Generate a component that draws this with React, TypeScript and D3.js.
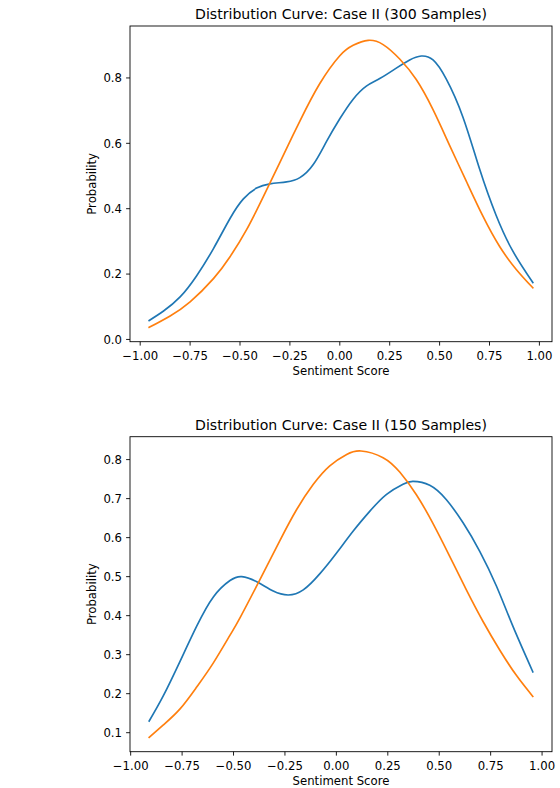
import React from "react";
import * as d3 from "d3";

// ---- Data: Case II (300 samples) ----
const xBlue300 = [-0.955, -0.883, -0.8, -0.717, -0.633, -0.55, -0.483, -0.417, -0.35, -0.267, -0.2, -0.133, -0.067, 0, 0.067, 0.133, 0.2, 0.283, 0.35, 0.408, 0.467, 0.533, 0.617, 0.7, 0.783, 0.867, 0.967];
const yBlue300 = [0.058, 0.087, 0.13, 0.195, 0.278, 0.37, 0.43, 0.463, 0.476, 0.482, 0.495, 0.535, 0.605, 0.675, 0.735, 0.775, 0.798, 0.83, 0.855, 0.867, 0.855, 0.797, 0.68, 0.522, 0.38, 0.27, 0.174];
const xOrange300 = [-0.955, -0.85, -0.75, -0.633, -0.55, -0.467, -0.383, -0.3, -0.2, -0.1, 0, 0.067, 0.142, 0.217, 0.3, 0.383, 0.467, 0.55, 0.633, 0.717, 0.8, 0.883, 0.967];
const yOrange300 = [0.037, 0.072, 0.115, 0.186, 0.253, 0.336, 0.437, 0.542, 0.668, 0.783, 0.868, 0.9, 0.915, 0.902, 0.858, 0.795, 0.703, 0.594, 0.485, 0.377, 0.285, 0.215, 0.158];

// ---- Data: Case II (150 samples) ----
const xBlue150 = [-0.91, -0.841, -0.76, -0.679, -0.598, -0.517, -0.46, -0.387, -0.307, -0.234, -0.161, -0.081, 0, 0.082, 0.163, 0.244, 0.324, 0.373, 0.454, 0.535, 0.616, 0.697, 0.778, 0.858, 0.955];
const yBlue150 = [0.13, 0.195, 0.283, 0.373, 0.448, 0.49, 0.5, 0.487, 0.463, 0.453, 0.466, 0.507, 0.56, 0.617, 0.668, 0.711, 0.737, 0.744, 0.734, 0.697, 0.638, 0.565, 0.476, 0.373, 0.256];
const xOrange150 = [-0.91, -0.841, -0.76, -0.679, -0.598, -0.517, -0.468, -0.371, -0.274, -0.193, -0.113, -0.032, 0.05, 0.12, 0.227, 0.308, 0.389, 0.47, 0.551, 0.632, 0.713, 0.794, 0.875, 0.955];
const yOrange150 = [0.088, 0.12, 0.161, 0.217, 0.279, 0.35, 0.395, 0.493, 0.593, 0.672, 0.736, 0.784, 0.813, 0.822, 0.805, 0.768, 0.71, 0.636, 0.552, 0.466, 0.385, 0.312, 0.247, 0.193];

const xTicks = [-1.0, -0.75, -0.5, -0.25, 0, 0.25, 0.5, 0.75, 1.0];
const yTicks300 = [0.0, 0.2, 0.4, 0.6, 0.8];
const yTicks150 = [0.1, 0.2, 0.3, 0.4, 0.5, 0.6, 0.7, 0.8];

const title300 = "Distribution Curve: Case II (300 Samples)";
const title150 = "Distribution Curve: Case II (150 Samples)";
const xLabel = "Sentiment Score";
const yLabel = "Probability";

const BLUE = "#1f77b4";
const ORANGE = "#ff7f0e";
const FONT = "DejaVu Sans, sans-serif";

const fmtMinus = (s: string) => s.replace("-", "\u2212");

type Series = { xs: number[]; ys: number[]; color: string };

function Panel(props: {
  top: number;
  bottom: number;
  left: number;
  right: number;
  title: string;
  series: Series[];
  yTicks: number[];
  yFmt: (v: number) => string;
}) {
  const { top, bottom, left, right, title, series, yTicks, yFmt } = props;
  const allX = series.flatMap((s) => s.xs);
  const allY = series.flatMap((s) => s.ys);
  const [x0, x1] = d3.extent(allX) as [number, number];
  const [y0, y1] = d3.extent(allY) as [number, number];
  const mx = (x1 - x0) * 0.05;
  const my = (y1 - y0) * 0.05;
  const xs = d3.scaleLinear().domain([x0 - mx, x1 + mx]).range([left, right]);
  const ys = d3.scaleLinear().domain([y0 - my, y1 + my]).range([bottom, top]);
  const line = d3
    .line<[number, number]>()
    .x((d) => xs(d[0]))
    .y((d) => ys(d[1]))
    .curve(d3.curveNatural);
  const tickLen = 3.9;
  const fs = 11.7;
  return (
    <g>
      <text
        x={(left + right) / 2}
        y={top - 6.7}
        textAnchor="middle"
        fontSize={14.1}
        fontFamily={FONT}
        fill="#000"
      >
        {title}
      </text>
      {series.map((s, i) => (
        <path
          key={i}
          d={line(s.xs.map((x, j) => [x, s.ys[j]] as [number, number])) || ""}
          fill="none"
          stroke={s.color}
          strokeWidth={1.67}
          strokeLinejoin="round"
          strokeLinecap="square"
        />
      ))}
      <rect
        x={left}
        y={top}
        width={right - left}
        height={bottom - top}
        fill="none"
        stroke="#000"
        strokeWidth={0.89}
      />
      {xTicks.map((t) => (
        <g key={"x" + t}>
          <line x1={xs(t)} x2={xs(t)} y1={bottom} y2={bottom + tickLen} stroke="#000" strokeWidth={0.89} />
          <text x={xs(t)} y={bottom + 18} textAnchor="middle" fontSize={fs} fontFamily={FONT} fill="#000">
            {fmtMinus(t.toFixed(2))}
          </text>
        </g>
      ))}
      {yTicks.map((t) => (
        <g key={"y" + t}>
          <line x1={left - tickLen} x2={left} y1={ys(t)} y2={ys(t)} stroke="#000" strokeWidth={0.89} />
          <text
            x={left - 8}
            y={ys(t)}
            dy="0.36em"
            textAnchor="end"
            fontSize={fs}
            fontFamily={FONT}
            fill="#000"
          >
            {yFmt(t)}
          </text>
        </g>
      ))}
      <text
        x={(left + right) / 2}
        y={bottom + 33}
        textAnchor="middle"
        fontSize={fs}
        fontFamily={FONT}
        fill="#000"
      >
        {xLabel}
      </text>
      <text
        transform={`translate(${left - 34.5},${(top + bottom) / 2}) rotate(-90)`}
        textAnchor="middle"
        fontSize={fs}
        fontFamily={FONT}
        fill="#000"
      >
        {yLabel}
      </text>
    </g>
  );
}

export default function App() {
  const fmt1 = (v: number) => v.toFixed(1);
  return (
    <svg
      width={560}
      height={788}
      style={{ position: "absolute", left: 0, top: 0, background: "#fff" }}
    >
      <rect width={560} height={788} fill="#fff" />
      <Panel
        top={26}
        bottom={341.7}
        left={130}
        right={552}
        title={title300}
        series={[
          { xs: xBlue300, ys: yBlue300, color: BLUE },
          { xs: xOrange300, ys: yOrange300, color: ORANGE },
        ]}
        yTicks={yTicks300}
        yFmt={fmt1}
      />
      <Panel
        top={436.7}
        bottom={751.7}
        left={130}
        right={552}
        title={title150}
        series={[
          { xs: xBlue150, ys: yBlue150, color: BLUE },
          { xs: xOrange150, ys: yOrange150, color: ORANGE },
        ]}
        yTicks={yTicks150}
        yFmt={fmt1}
      />
    </svg>
  );
}
